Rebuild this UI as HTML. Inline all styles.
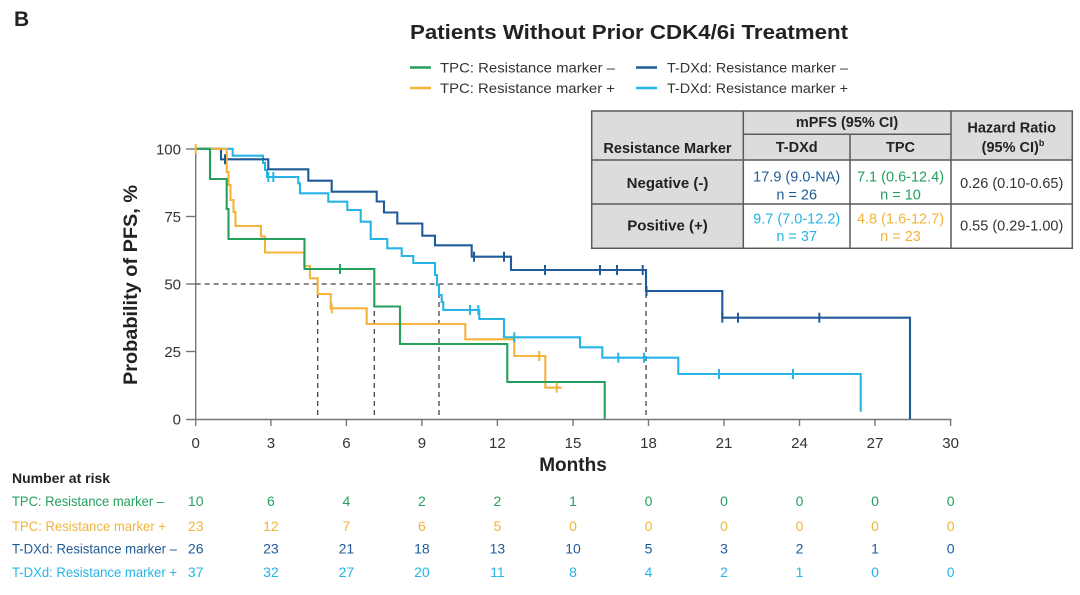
<!DOCTYPE html>
<html>
<head>
<meta charset="utf-8">
<style>
  html, body { margin:0; padding:0; background:#fff; }
  svg { display:block; }
  text { font-family: "Liberation Sans", Arial, sans-serif; }
</style>
</head>
<body>
<svg width="1080" height="595" viewBox="0 0 1080 595" xmlns="http://www.w3.org/2000/svg">
  <rect x="0" y="0" width="1080" height="595" fill="#fff"/>

  <!-- Panel letter and title -->
  <text x="14" y="26" font-size="21" font-weight="bold" fill="#222">B</text>
  <text x="410" y="39" font-size="20" font-weight="bold" fill="#222" textLength="438" lengthAdjust="spacingAndGlyphs">Patients Without Prior CDK4/6i Treatment</text>

  <!-- Legend -->
  <g font-size="14" fill="#333">
    <line x1="410" y1="67.5" x2="431" y2="67.5" stroke="#24a05e" stroke-width="2.5"/>
    <text x="440" y="72.5" textLength="175" lengthAdjust="spacingAndGlyphs">TPC: Resistance marker –</text>
    <line x1="636" y1="67.5" x2="657" y2="67.5" stroke="#1f5b99" stroke-width="2.5"/>
    <text x="667" y="72.5" textLength="181" lengthAdjust="spacingAndGlyphs">T-DXd: Resistance marker –</text>
    <line x1="410" y1="88" x2="431" y2="88" stroke="#f2b43a" stroke-width="2.5"/>
    <text x="440" y="93" textLength="175" lengthAdjust="spacingAndGlyphs">TPC: Resistance marker +</text>
    <line x1="636" y1="88" x2="657" y2="88" stroke="#27b4e6" stroke-width="2.5"/>
    <text x="667" y="93" textLength="181" lengthAdjust="spacingAndGlyphs">T-DXd: Resistance marker +</text>
  </g>

  <!-- Axes -->
  <g stroke="#777" stroke-width="1.4" fill="none">
    <line x1="195.7" y1="147" x2="195.7" y2="419.5"/>
    <line x1="186" y1="419.5" x2="951.5" y2="419.5"/>
    <line x1="186" y1="149" x2="195.7" y2="149"/>
    <line x1="186" y1="216.5" x2="195.7" y2="216.5"/>
    <line x1="186" y1="284" x2="195.7" y2="284"/>
    <line x1="186" y1="351.5" x2="195.7" y2="351.5"/>
    <line x1="195.7" y1="419.5" x2="195.7" y2="426"/>
    <line x1="270.9" y1="419.5" x2="270.9" y2="426"/>
    <line x1="346.4" y1="419.5" x2="346.4" y2="426"/>
    <line x1="421.9" y1="419.5" x2="421.9" y2="426"/>
    <line x1="497.4" y1="419.5" x2="497.4" y2="426"/>
    <line x1="573" y1="419.5" x2="573" y2="426"/>
    <line x1="648.5" y1="419.5" x2="648.5" y2="426"/>
    <line x1="724" y1="419.5" x2="724" y2="426"/>
    <line x1="799.5" y1="419.5" x2="799.5" y2="426"/>
    <line x1="875" y1="419.5" x2="875" y2="426"/>
    <line x1="950.6" y1="419.5" x2="950.6" y2="426"/>
  </g>

  <!-- Y tick labels -->
  <g font-size="15" fill="#333" text-anchor="end">
    <text x="181" y="154.5">100</text>
    <text x="181" y="222">75</text>
    <text x="181" y="289.5">50</text>
    <text x="181" y="357">25</text>
    <text x="181" y="424.5">0</text>
  </g>
  <!-- X tick labels -->
  <g font-size="15" fill="#333" text-anchor="middle">
    <text x="195.7" y="448">0</text>
    <text x="270.9" y="448">3</text>
    <text x="346.4" y="448">6</text>
    <text x="421.9" y="448">9</text>
    <text x="497.4" y="448">12</text>
    <text x="573" y="448">15</text>
    <text x="648.5" y="448">18</text>
    <text x="724" y="448">21</text>
    <text x="799.5" y="448">24</text>
    <text x="875" y="448">27</text>
    <text x="950.6" y="448">30</text>
  </g>

  <!-- Axis titles -->
  <text x="573" y="471" font-size="19" font-weight="bold" fill="#222" text-anchor="middle">Months</text>
  <text transform="translate(137,285) rotate(-90)" font-size="19" font-weight="bold" fill="#222" text-anchor="middle" textLength="200" lengthAdjust="spacingAndGlyphs">Probability of PFS, %</text>

  <!-- Median dashed lines -->
  <g stroke="#444" stroke-width="1.3" stroke-dasharray="5,4" fill="none">
    <line x1="195.7" y1="284" x2="646" y2="284"/>
    <line x1="317.7" y1="284" x2="317.7" y2="419"/>
    <line x1="374.3" y1="284" x2="374.3" y2="419"/>
    <line x1="439" y1="284" x2="439" y2="419"/>
    <line x1="646" y1="284" x2="646" y2="419"/>
  </g>

  <!-- Curves -->
  <g fill="none" stroke-width="2.1" stroke-linejoin="miter">
    <path stroke="#27b4e6" d="M195.7,148.8 H232.7 V155.7 H263 V163 H265 V170 H267 V177 H298.3 V183.3 H300 V193.3 H328.3 V201.7 H347.3 V210 H360.7 V221.7 H370.7 V239 H387.3 V248.3 H401.7 V256 H413.3 V263 H435 V275 H437 V285 H439 V295 H441.7 V302 H443.3 V310 H479.3 V319 H504 V337.3 H580 V347.3 H602.3 V357.7 H678.3 V374 H860.7 V411.7"/>
    <path stroke="#1f5b99" d="M195.7,148.8 H221 V159.3 H268.3 V169.3 H308.3 V180.7 H331.7 V191.7 H376.7 V201.5 H384 V212.5 H397.3 V223.5 H422.3 V235.7 H435 V245.3 H471.7 V256.7 H511 V270 H646 V291 H722.3 V317.7 H910 V419"/>
    <path stroke="#f2b43a" d="M195.7,148.8 H226.7 V172 H228.5 V185 H230.5 V200 H233.5 V212 H235.5 V226 H261 V236.5 H265 V252.5 H304.3 V266 H310 V278.3 H317.7 V294 H330.7 V308.3 H366.7 V324 H465.3 V339.3 H514.3 V356 H545.3 V387.7 H561.7"/>
    <path stroke="#24a05e" d="M195.7,148.8 H210 V179 H226.7 V209 H228.5 V239 H304.5 V269 H374.3 V306.5 H400 V344 H507.3 V382 H604.7 V419"/>
  </g>

  <!-- Censor marks -->
  <g stroke-width="2">
    <g stroke="#27b4e6">
      <line x1="268.3" y1="172" x2="268.3" y2="182"/>
      <line x1="273.3" y1="172" x2="273.3" y2="182"/>
      <line x1="470" y1="305" x2="470" y2="315"/>
      <line x1="478.3" y1="305" x2="478.3" y2="315"/>
      <line x1="514.3" y1="332.3" x2="514.3" y2="342.3"/>
      <line x1="618.3" y1="352.7" x2="618.3" y2="362.7"/>
      <line x1="644" y1="352.7" x2="644" y2="362.7"/>
      <line x1="719" y1="369" x2="719" y2="379"/>
      <line x1="793" y1="369" x2="793" y2="379"/>
    </g>
    <g stroke="#1f5b99">
      <line x1="225" y1="154.3" x2="225" y2="164.3"/>
      <line x1="474" y1="251.7" x2="474" y2="261.7"/>
      <line x1="504" y1="251.7" x2="504" y2="261.7"/>
      <line x1="545" y1="265" x2="545" y2="275"/>
      <line x1="600" y1="265" x2="600" y2="275"/>
      <line x1="617" y1="265" x2="617" y2="275"/>
      <line x1="642.7" y1="265" x2="642.7" y2="275"/>
      <line x1="646.5" y1="286" x2="646.5" y2="296"/>
      <line x1="722.3" y1="312.7" x2="722.3" y2="322.7"/>
      <line x1="738" y1="312.7" x2="738" y2="322.7"/>
      <line x1="819.3" y1="312.7" x2="819.3" y2="322.7"/>
    </g>
    <g stroke="#f2b43a">
      <line x1="195.7" y1="144" x2="195.7" y2="154"/>
      <line x1="331.7" y1="303.3" x2="331.7" y2="313.3"/>
      <line x1="539.3" y1="351" x2="539.3" y2="361"/>
      <line x1="556.7" y1="382.7" x2="556.7" y2="392.7"/>
    </g>
    <g stroke="#24a05e">
      <line x1="340" y1="264" x2="340" y2="274"/>
    </g>
  </g>

  <!-- Table -->
  <g>
    <rect x="591.7" y="111" width="480.6" height="49" fill="#dcdcdc"/>
    <rect x="591.7" y="160" width="151.6" height="88.3" fill="#dcdcdc"/>
    <rect x="743.3" y="160" width="329" height="88.3" fill="#fff"/>
    <g stroke="#5a5a5a" stroke-width="1.5" fill="none">
      <rect x="591.7" y="111" width="480.6" height="137.3"/>
      <line x1="743.3" y1="111" x2="743.3" y2="248.3"/>
      <line x1="951" y1="111" x2="951" y2="248.3"/>
      <line x1="850" y1="134.3" x2="850" y2="248.3"/>
      <line x1="743.3" y1="134.3" x2="951" y2="134.3"/>
      <line x1="591.7" y1="160" x2="1072.3" y2="160"/>
      <line x1="591.7" y1="204" x2="1072.3" y2="204"/>
    </g>
    <g font-size="14.5" font-weight="bold" fill="#222" text-anchor="middle">
      <text x="847" y="127">mPFS (95% CI)</text>
      <text x="667.5" y="153">Resistance Marker</text>
      <text x="796.7" y="152">T-DXd</text>
      <text x="900.5" y="152">TPC</text>
      <text x="1011.7" y="132.5">Hazard Ratio</text>
      <text x="1013" y="152">(95% CI)<tspan font-size="9" dy="-6">b</tspan></text>
    </g>
    <g font-size="15" font-weight="bold" fill="#222" text-anchor="middle">
      <text x="667.5" y="188">Negative (-)</text>
      <text x="667.5" y="230.5">Positive (+)</text>
    </g>
    <g font-size="14.5" text-anchor="middle">
      <text x="796.7" y="181.5" fill="#1f5b99">17.9 (9.0-NA)</text>
      <text x="796.7" y="199.5" fill="#1f5b99">n = 26</text>
      <text x="900.5" y="181.5" fill="#24a05e">7.1 (0.6-12.4)</text>
      <text x="900.5" y="199.5" fill="#24a05e">n = 10</text>
      <text x="1011.7" y="188" fill="#333">0.26 (0.10-0.65)</text>
      <text x="796.7" y="223.5" fill="#27b4e6">9.7 (7.0-12.2)</text>
      <text x="796.7" y="241" fill="#27b4e6">n = 37</text>
      <text x="900.5" y="223.5" fill="#f2b43a">4.8 (1.6-12.7)</text>
      <text x="900.5" y="241" fill="#f2b43a">n = 23</text>
      <text x="1011.7" y="230.5" fill="#333">0.55 (0.29-1.00)</text>
    </g>
  </g>

  <!-- Number at risk -->
  <text x="12" y="483" font-size="14" font-weight="bold" fill="#222">Number at risk</text>
  <g font-size="14">
    <text x="12" y="506" fill="#24a05e" textLength="152" lengthAdjust="spacingAndGlyphs">TPC: Resistance marker –</text>
    <text x="12" y="531" fill="#f2b43a" textLength="154" lengthAdjust="spacingAndGlyphs">TPC: Resistance marker +</text>
    <text x="12" y="553.5" fill="#1f5b99" textLength="165" lengthAdjust="spacingAndGlyphs">T-DXd: Resistance marker –</text>
    <text x="12" y="577" fill="#27b4e6" textLength="165" lengthAdjust="spacingAndGlyphs">T-DXd: Resistance marker +</text>
  </g>
  <g font-size="14" text-anchor="middle">
    <g fill="#24a05e">
      <text x="195.7" y="506">10</text><text x="270.9" y="506">6</text><text x="346.4" y="506">4</text><text x="421.9" y="506">2</text><text x="497.4" y="506">2</text><text x="573" y="506">1</text><text x="648.5" y="506">0</text><text x="724" y="506">0</text><text x="799.5" y="506">0</text><text x="875" y="506">0</text><text x="950.6" y="506">0</text>
    </g>
    <g fill="#f2b43a">
      <text x="195.7" y="531">23</text><text x="270.9" y="531">12</text><text x="346.4" y="531">7</text><text x="421.9" y="531">6</text><text x="497.4" y="531">5</text><text x="573" y="531">0</text><text x="648.5" y="531">0</text><text x="724" y="531">0</text><text x="799.5" y="531">0</text><text x="875" y="531">0</text><text x="950.6" y="531">0</text>
    </g>
    <g fill="#1f5b99">
      <text x="195.7" y="553.5">26</text><text x="270.9" y="553.5">23</text><text x="346.4" y="553.5">21</text><text x="421.9" y="553.5">18</text><text x="497.4" y="553.5">13</text><text x="573" y="553.5">10</text><text x="648.5" y="553.5">5</text><text x="724" y="553.5">3</text><text x="799.5" y="553.5">2</text><text x="875" y="553.5">1</text><text x="950.6" y="553.5">0</text>
    </g>
    <g fill="#27b4e6">
      <text x="195.7" y="577">37</text><text x="270.9" y="577">32</text><text x="346.4" y="577">27</text><text x="421.9" y="577">20</text><text x="497.4" y="577">11</text><text x="573" y="577">8</text><text x="648.5" y="577">4</text><text x="724" y="577">2</text><text x="799.5" y="577">1</text><text x="875" y="577">0</text><text x="950.6" y="577">0</text>
    </g>
  </g>
</svg>
</body>
</html>
